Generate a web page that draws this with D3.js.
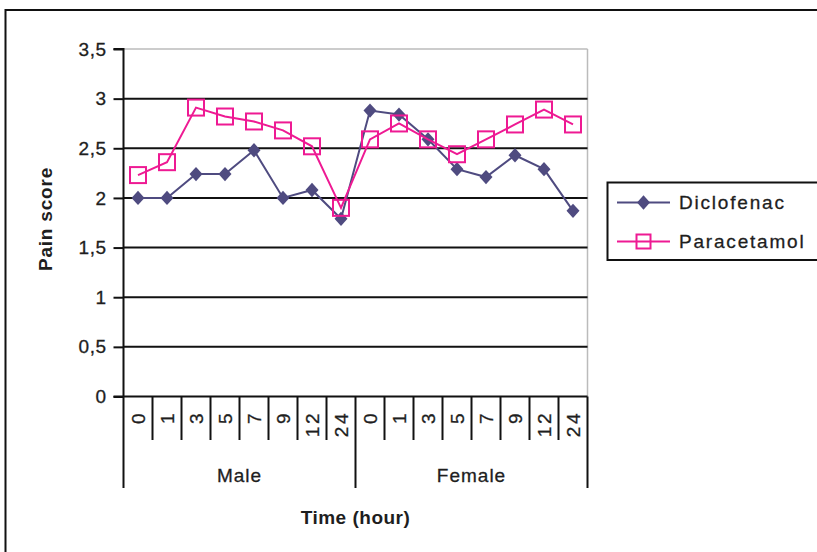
<!DOCTYPE html>
<html><head><meta charset="utf-8">
<script src="https://cdn.jsdelivr.net/npm/d3@7"></script>
<style>
html,body{margin:0;padding:0;background:#fff;}
svg{display:block;font-family:"Liberation Sans",Arial,sans-serif;}
</style></head>
<body>
<svg id="c" width="817" height="552"></svg>
<script>
const times = ["0","1","3","5","7","9","12","24"];
const groups = ["Male","Female"];
const seriesNames = ["Diclofenac","Paracetamol"];
const diclofenac = [2.00,2.00,2.24,2.24,2.48,2.00,2.08,1.79, 2.88,2.84,2.59,2.29,2.21,2.43,2.29,1.87];
const paracetamol = [2.23,2.36,2.91,2.82,2.77,2.68,2.52,1.90, 2.59,2.75,2.59,2.44,2.59,2.74,2.89,2.74];
const yTicks = [0,0.5,1,1.5,2,2.5,3,3.5];
const yTickLabels = ["0","0,5","1","1,5","2","2,5","3","3,5"];

const colD = "#4f4b80", colP = "#ee1a93", txt = "#1e1e1e";
const svg = d3.select("#c");
const L = 123.5, R = 587.5, T = 49, B = 396.5;

// outer frame
svg.append("rect").attr("x",5.5).attr("y",10).attr("width",830).attr("height",600)
  .attr("fill","none").attr("stroke","#111").attr("stroke-width",2);

const keys = d3.range(groups.length*times.length);
const x = d3.scaleBand().domain(keys).range([L,R]).padding(0);
const y = d3.scaleLinear().domain([0,3.5]).range([B,T]);

// plot border (gray)
svg.append("line").attr("x1",L).attr("x2",R).attr("y1",y(3.5)).attr("y2",y(3.5)).attr("stroke","#bbb").attr("stroke-width",1.5);
svg.append("line").attr("x1",R).attr("x2",R).attr("y1",T).attr("y2",B).attr("stroke","#bbb").attr("stroke-width",1.5);

// gridlines
svg.append("g").selectAll("line").data(yTicks.filter(v=>v>0 && v<3.5)).join("line")
  .attr("x1",L).attr("x2",R).attr("y1",d=>y(d)).attr("y2",d=>y(d))
  .attr("stroke","#111").attr("stroke-width",2);

// y axis
const yAxis = d3.axisLeft(y).tickValues(yTicks).tickSize(10).tickPadding(7)
  .tickFormat((d,i)=>yTickLabels[i]);
const gy = svg.append("g").attr("transform",`translate(${L},0)`).call(yAxis);
gy.select(".domain").attr("stroke","#111").attr("stroke-width",2).attr("d",`M-10,${T}H0V${B}`);
gy.selectAll(".tick line").attr("stroke","#111").attr("stroke-width",2);
gy.selectAll(".tick text").attr("font-size",19).attr("fill",txt).attr("letter-spacing",0.5)
  .attr("stroke",txt).attr("stroke-width",0.3)
  .attr("font-family","Liberation Sans, Arial, sans-serif");

// x axis line
svg.append("line").attr("x1",L-10).attr("x2",R).attr("y1",B).attr("y2",B).attr("stroke","#111").attr("stroke-width",2);

// category separators
const bounds = d3.range(keys.length+1);
svg.append("g").selectAll("line").data(bounds).join("line")
  .attr("x1",i=> i<keys.length ? x(i) : R).attr("x2",i=> i<keys.length ? x(i) : R)
  .attr("y1",B).attr("y2",i=> (i % times.length===0) ? 488 : 440)
  .attr("stroke","#111").attr("stroke-width",2);

// category labels
svg.append("g").selectAll("text").data(keys).join("text")
  .attr("transform",i=>`translate(${x(i)+x.bandwidth()/2},411) rotate(-90)`)
  .attr("text-anchor","end").attr("dy","0.35em")
  .attr("font-size",19).attr("letter-spacing",2.5).attr("fill",txt)
  .attr("stroke",txt).attr("stroke-width",0.3)
  .text(i=>times[i % times.length]);

// group labels
svg.append("g").selectAll("text").data(groups).join("text")
  .attr("x",(g,gi)=> (x(gi*times.length) + (gi===groups.length-1 ? R : x((gi+1)*times.length)))/2)
  .attr("y",482).attr("text-anchor","middle")
  .attr("font-size",19).attr("letter-spacing",1).attr("fill",txt)
  .attr("stroke",txt).attr("stroke-width",0.3).text(d=>d);

// axis titles
svg.append("text").attr("x",(L+R)/2).attr("y",524).attr("text-anchor","middle")
  .attr("font-size",19).attr("font-weight","bold").attr("letter-spacing",0.5).attr("fill",txt)
  .text("Time (hour)");
svg.append("text").attr("transform","translate(45,219) rotate(-90)").attr("text-anchor","middle")
  .attr("dy","0.35em").attr("font-size",19).attr("font-weight","bold").attr("letter-spacing",0.8).attr("fill",txt)
  .text("Pain score");

// lines
const line = d3.line().x((d,i)=>x(i)+x.bandwidth()/2).y(d=>y(d));
const diamond = (s)=>`M0,${-s*1.1}L${s},0L0,${s*1.1}L${-s},0Z`;

svg.append("path").datum(diclofenac).attr("d",line).attr("fill","none").attr("stroke",colD).attr("stroke-width",2);
svg.append("g").selectAll("path").data(diclofenac).join("path")
  .attr("transform",(d,i)=>`translate(${x(i)+x.bandwidth()/2},${y(d)})`)
  .attr("d",diamond(6.5)).attr("fill",colD);

svg.append("path").datum(paracetamol).attr("d",line).attr("fill","none").attr("stroke",colP).attr("stroke-width",2);
svg.append("g").selectAll("rect").data(paracetamol).join("rect")
  .attr("x",(d,i)=>x(i)+x.bandwidth()/2-8).attr("y",d=>y(d)-8)
  .attr("width",16).attr("height",16).attr("fill","none").attr("stroke",colP).attr("stroke-width",2);

// legend
const lg = svg.append("g");
lg.append("rect").attr("x",607.5).attr("y",182.5).attr("width",240).attr("height",77.5)
  .attr("fill","#fff").attr("stroke","#111").attr("stroke-width",2);
const ly = [202.5, 241.5];
seriesNames.forEach((n,i)=>{
  const c = i===0?colD:colP;
  lg.append("line").attr("x1",617).attr("x2",670).attr("y1",ly[i]).attr("y2",ly[i]).attr("stroke",c).attr("stroke-width",2);
  if(i===0){
    lg.append("path").attr("transform",`translate(643.5,${ly[i]})`).attr("d",diamond(6.5)).attr("fill",c);
  } else {
    lg.append("rect").attr("x",643.5-7).attr("y",ly[i]-7).attr("width",14).attr("height",14)
      .attr("fill","none").attr("stroke",c).attr("stroke-width",2);
  }
  lg.append("text").attr("x",679).attr("y",ly[i]).attr("dy","0.35em")
    .attr("font-size",19).attr("letter-spacing",1.8).attr("fill",txt)
    .attr("stroke",txt).attr("stroke-width",0.3).text(n);
});
</script>
</body></html>
